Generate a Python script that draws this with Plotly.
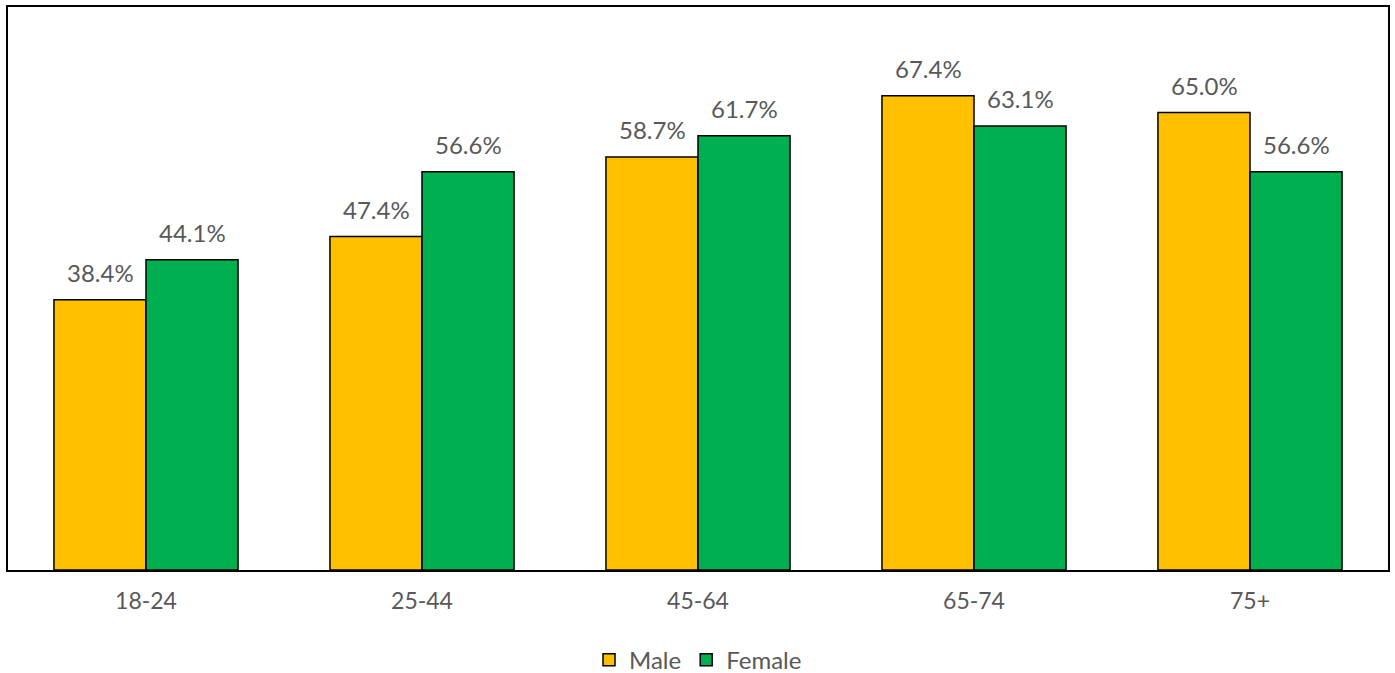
import plotly.graph_objects as go

categories = ["18-24", "25-44", "45-64", "65-74", "75+"]
male = [38.4, 47.4, 58.7, 67.4, 65.0]
female = [44.1, 56.6, 61.7, 63.1, 56.6]

font_family = "Lato, 'Open Sans', sans-serif"
gray = "#595959"

fig = go.Figure()
fig.add_trace(go.Bar(
    x=categories, y=male, name="Male",
    marker=dict(color="#FFC000", line=dict(color="black", width=1.5)),
))
fig.add_trace(go.Bar(
    x=categories, y=female, name="Female",
    marker=dict(color="#00B050", line=dict(color="black", width=1.5)),
))

for vals, shift in ((male, -46), (female, 46)):
    for c, v in zip(categories, vals):
        fig.add_annotation(x=c, y=v, text=f"{v:.1f}%", showarrow=False,
                           xshift=shift, yshift=27, yanchor="middle",
                           font=dict(size=24, color=gray, family=font_family))

fig.update_layout(
    width=1395, height=673,
    margin=dict(l=8, r=7, t=7, b=103, autoexpand=False),
    paper_bgcolor="white", plot_bgcolor="white",
    barmode="group", bargap=0.333, bargroupgap=0,
    font=dict(family=font_family, color=gray, size=24),
    showlegend=True,
    legend=dict(orientation="h", x=0.5, xanchor="center", y=-0.16, yanchor="middle",
                font=dict(size=24, color=gray), traceorder="normal"),
    xaxis=dict(showline=True, mirror=True, linecolor="black", linewidth=2,
               ticks="", tickfont=dict(size=23, color=gray), showgrid=False,
               ticklabelstandoff=9),
    yaxis=dict(range=[0, 80], showline=True, mirror=True, linecolor="black", linewidth=2,
               showticklabels=False, showgrid=False, zeroline=False, ticks=""),
)

fig.write_html("out.html", config={"displayModeBar": False},
               post_script="document.body.style.margin='0';")
